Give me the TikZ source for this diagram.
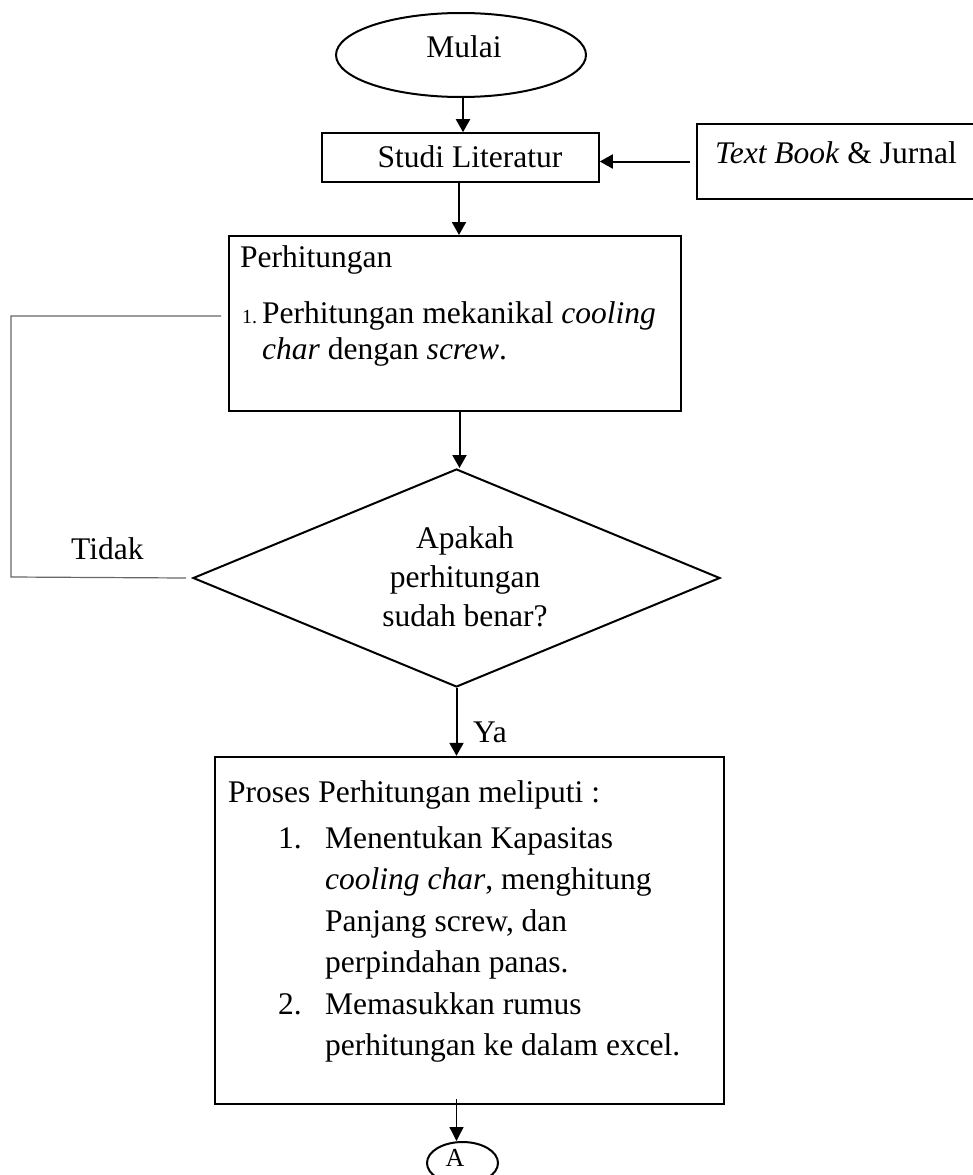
\documentclass[tikz,border=0pt]{standalone}
\usepackage{fontspec}
\setmainfont{Liberation Serif}
\usetikzlibrary{arrows.meta,shapes.geometric}
\begin{document}
\begin{tikzpicture}[x=1pt,y=-1pt,
  txt/.style={inner sep=0pt, font=\fontsize{31.5}{38}\selectfont, anchor=base west},
  ctxt/.style={inner sep=0pt, font=\fontsize{31.5}{38}\selectfont, anchor=base},
  box/.style={draw, line width=2pt, inner sep=0pt},
  arr/.style={line width=2pt, -{Triangle[length=13pt,width=14pt]}},
  arrthin/.style={line width=1.3pt, -{Triangle[length=14pt,width=14pt]}},
  loopline/.style={draw=black!60, line width=1.2pt},
]
\useasboundingbox (0,0) rectangle (973,1175);

% shapes
\node[box, ellipse, minimum width=250pt, minimum height=84pt] (mulai) at (461,55) {};
\node[box, line width=1.6pt, rectangle, minimum width=277pt, minimum height=49pt] (studi) at (460.5,157.5) {};
\node[inner sep=0pt, minimum width=276pt, minimum height=75pt] (tb) at (835,161.5) {};
\draw[line width=2pt] (tb.north east) -- (tb.north west) -- (tb.south west) -- (tb.south east);
\node[box, rectangle, minimum width=452pt, minimum height=175pt] (perh) at (455,323.5) {};
\node[box, diamond, minimum width=527pt, minimum height=218pt] (dia) at (456.5,578) {};
\node[box, line width=2.4pt, rectangle, minimum width=509pt, minimum height=347pt] (pros) at (469.5,930.5) {};
\node[box, ellipse, minimum width=71pt, minimum height=42pt] (conA) at (462.5,1163) {};

% texts
\node[ctxt] (tMulai) at (464,57) {Mulai};
\node[ctxt] (tStudi) at (470,167) {Studi Literatur};
\node[txt] (tTB) at (715,163) {\textit{Text Book} \& Jurnal};
\node[txt] (tP0) at (240,267) {Perhitungan};
\node[txt, font=\fontsize{20}{24}\selectfont] (tP1n) at (242,323) {1.};
\node[txt] (tP1) at (262,323) {Perhitungan mekanikal \textit{cooling}};
\node[txt] (tP2) at (262,359) {\textit{char} dengan \textit{screw}.};
\node[txt] (tTidak) at (71,559) {Tidak};
\node[ctxt] (tD1) at (465,548) {Apakah};
\node[ctxt] (tD2) at (465,587) {perhitungan};
\node[ctxt] (tD3) at (465,626) {sudah benar?};
\node[txt] (tYa) at (473,742) {Ya};
\node[txt] (tR0) at (228,802) {Proses Perhitungan meliputi :};
\node[txt] (tR1n) at (278,848) {1.};
\node[txt] (tR1) at (325,848) {Menentukan Kapasitas};
\node[txt] (tR2) at (325,889) {\textit{cooling char}, menghitung};
\node[txt] (tR3) at (325,931) {Panjang screw, dan};
\node[txt] (tR4) at (325,972) {perpindahan panas.};
\node[txt] (tR5n) at (278,1014) {2.};
\node[txt] (tR5) at (325,1014) {Memasukkan rumus};
\node[txt] (tR6) at (325,1055) {perhitungan ke dalam excel.};
\node[inner sep=0pt, font=\fontsize{26}{30}\selectfont, anchor=base] (tA) at (455,1166) {A};

% connectors
\draw[arr] ([xshift=2pt]mulai.south) -- ([xshift=2pt]mulai.south |- studi.north);
\draw[arr] ([xshift=-7pt]tb.west) -- (tb.west -| studi.east);
\draw[arr] ([xshift=-1.5pt]studi.south) -- ([xshift=-1.5pt]studi.south |- perh.north);
\draw[arr] ([xshift=4.5pt]perh.south) -- ([xshift=4.5pt]perh.south |- dia.north);
\draw[arr] (dia.south) -- (dia.south |- pros.north);
\draw[arrthin] ([yshift=6pt]pros.south -| dia.south) -- (dia.south |- conA.north);

\coordinate (lb) at (11,577);
\coordinate (lt) at (11,316);
\draw[loopline] ([xshift=-6pt]dia.west) -- (lb) -- (lt) -- ([xshift=-7pt]perh.west |- lt);
\end{tikzpicture}
\end{document}
